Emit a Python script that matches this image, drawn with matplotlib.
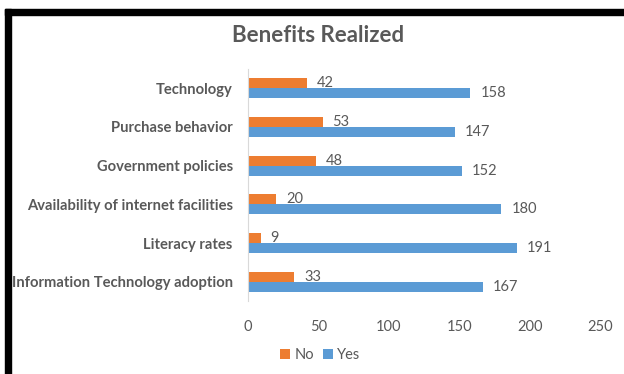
import matplotlib
matplotlib.use("Agg")
import matplotlib.pyplot as plt
from matplotlib.patches import Rectangle
import numpy as np

categories = ["Information Technology adoption", "Literacy rates",
              "Availability of internet facilities", "Government policies",
              "Purchase behavior", "Technology"]
no_vals = [33, 9, 20, 48, 53, 42]
yes_vals = [167, 191, 180, 152, 147, 158]
xticks = [0, 50, 100, 150, 200, 250]

plt.rcParams['font.family'] = ['Lato', 'DejaVu Sans']
GRAY = "#595959"
ORANGE = "#ED7D31"
BLUE = "#5B9BD5"

W, H = 624, 374
fig = plt.figure(figsize=(W/100, H/100), dpi=100)

# black frame lines (top and left)
fig.patches.append(Rectangle((5/W, 1 - 15/H), 1 - 5/W, 6/H, transform=fig.transFigure,
                             color="black", zorder=0))
fig.patches.append(Rectangle((5/W, 0), 6/W, 1 - 9/H, transform=fig.transFigure,
                             color="black", zorder=0))

ax = fig.add_axes([248/W, 1 - 301/H, 352/W, 232/H])
y = np.arange(len(categories))
h = 0.26
ax.barh(y + h/2, no_vals, height=h, color=ORANGE, label="No")
ax.barh(y - h/2, yes_vals, height=h, color=BLUE, label="Yes")

for yi, v in zip(y, no_vals):
    ax.text(v + 7, yi + h/2, str(v), va="center", ha="left", fontsize=10.5, color=GRAY)
for yi, v in zip(y, yes_vals):
    ax.text(v + 7, yi - h/2, str(v), va="center", ha="left", fontsize=10.5, color=GRAY)

ax.set_xlim(0, 250)
ax.set_ylim(-0.5, len(categories) - 0.5)
ax.set_xticks(xticks)
ax.set_xticklabels([str(t) for t in xticks], fontsize=10.5, color=GRAY)
ax.set_yticks(y)
ax.set_yticklabels(categories, fontsize=10.6, color=GRAY, fontweight="bold")
ax.tick_params(axis="both", length=0)
ax.tick_params(axis="x", pad=14)
ax.tick_params(axis="y", pad=11)
for s in ["top", "right", "bottom"]:
    ax.spines[s].set_visible(False)
ax.spines["left"].set_color("#D9D9D9")

fig.text(318/W, 1 - 36/H, "Benefits Realized", ha="center", va="center",
         fontsize=16, fontweight="bold", color=GRAY)

handles, labels = ax.get_legend_handles_labels()
fig.legend(handles, labels, loc="center", bbox_to_anchor=(320/W, 1 - 355/H),
           ncol=2, frameon=False, fontsize=10.5, labelcolor=GRAY,
           handlelength=0.7, handleheight=0.7, handletextpad=0.3, columnspacing=0.6)

fig.savefig("out.png", dpi=100, facecolor="white")
